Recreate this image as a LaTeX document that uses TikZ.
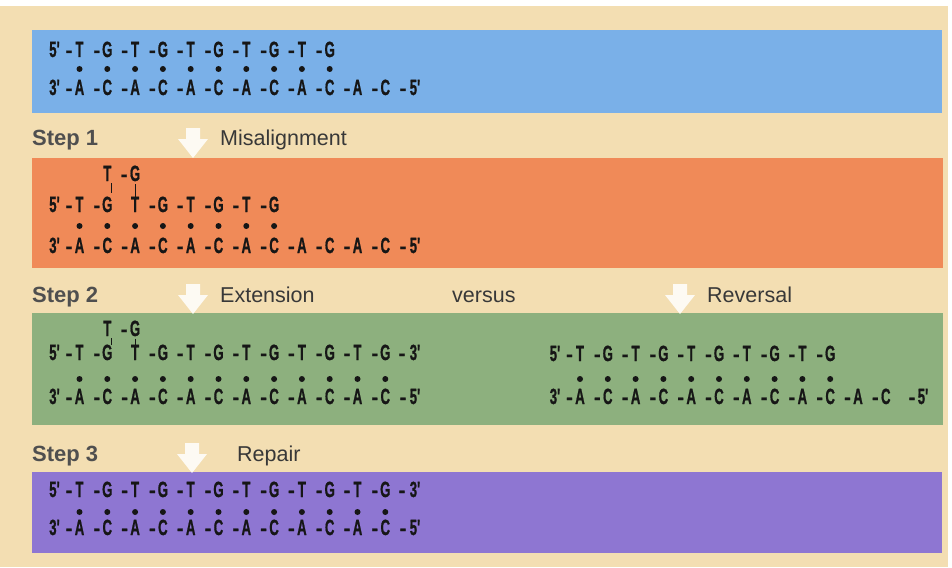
\documentclass[tikz,border=0pt]{standalone}
\usepackage{fontspec}
\setmainfont{Liberation Sans}
\newfontfamily\dnafont{Liberation Sans}[BoldFeatures={FakeBold=1.2}]
\usepackage{graphicx}
\definecolor{bg}{HTML}{F3DEB2}
\definecolor{blueband}{HTML}{7AB0E8}
\definecolor{orangeband}{HTML}{F08A58}
\definecolor{greenband}{HTML}{8DB07E}
\definecolor{purpleband}{HTML}{8E76D2}
\definecolor{ink}{HTML}{161616}
\definecolor{steptxt}{HTML}{4F4F4F}
\definecolor{labtxt}{HTML}{383838}
\newcommand\dnaT[1]{\scalebox{0.6}[1]{\dnafont\fontsize{22}{22}\selectfont\bfseries #1}}
\newcommand\dnaH{{\dnafont\fontsize{20}{20}\selectfont\bfseries -}}
\tikzset{
  nt/.style={inner sep=0pt, anchor=base, text=ink},
  steplab/.style={inner sep=0pt, anchor=base west, text=steptxt, font=\fontsize{22}{22}\selectfont\bfseries},
  actlab/.style={inner sep=0pt, anchor=base west, text=labtxt, font=\fontsize{21.5}{22}\selectfont},
  arrowshape/.style={fill=white, opacity=0.85},
  tick/.style={draw=ink, line width=1pt}
}
% #1 baseline, #2 x0, #3 first index, #4 last index, #5 even letter, #6 odd letter
\newcommand\strand[6]{%
  \foreach \i in {#3,...,#4}{%
    \pgfmathsetmacro\xx{#2+27.8*\i}%
    \ifodd\i\relax\def\bl{#6}\else\def\bl{#5}\fi
    \node[nt] at (\xx,#1) {\dnaT{\bl}};
    \node[nt] at (\xx-10.5,#1) {\dnaH};
  }}
\newcommand\bpdots[4]{\foreach \i in {#3,...,#4}{\fill[ink] (#2+27.8*\i,#1) circle (3pt);}}
\newcommand\stepArrow[2]{%
  \fill[arrowshape] (#1-7,#2-30) -- (#1+7,#2-30) -- (#1+7,#2-19) -- (#1+15,#2-19)
     -- (#1,#2) -- (#1-15,#2-19) -- (#1-7,#2-19) -- cycle;}
\begin{document}
\begin{tikzpicture}[x=1pt,y=-1pt]
\useasboundingbox (0,0) rectangle (952,567);
\fill[white] (0,0) rectangle (952,567);
\fill[bg] (0,6) rectangle (948,567);
% bands
\fill[blueband] (32,30) rectangle (942,113);
\fill[orangeband] (32,158) rectangle (943,268);
\fill[greenband] (32,313) rectangle (943,425);
\fill[purpleband] (32,472) rectangle (942,553);
% arrows
\stepArrow{193}{158}
\stepArrow{193}{314}
\stepArrow{680}{314}
\stepArrow{192}{473}
% labels
\node[steplab] (s1) at (32,146) {Step 1};
\node[actlab] (l1) at (220,146) {Misalignment};
\node[steplab] (s2) at (32,302) {Step 2};
\node[actlab] (l2) at (220,302) {Extension};
\node[actlab] (vs) at (452,302) {versus};
\node[actlab] (l3) at (707,302) {Reversal};
\node[steplab] (s3) at (32,461) {Step 3};
\node[actlab] (l4) at (237,461) {Repair};
% ---- blue: original
\node[nt] (b5) at (79.5-25,57) {\dnaT{5'}};
\strand{57}{79.5}{0}{9}{T}{G}
\bpdots{69}{79.5}{0}{9}
\node[nt] (b3) at (79.5-25,95) {\dnaT{3'}};
\strand{95}{79.5}{0}{11}{A}{C}
\node[nt] at (403,95) {\dnaH};
\node[nt] (b5e) at (415,95) {\dnaT{5'}};
% ---- orange: misalignment
\node[nt] (ob1) at (107.3,181) {\dnaT{T}};
\node[nt] at (135.1-11,181) {\dnaH};
\node[nt] (ob2) at (135.1,181) {\dnaT{G}};
\draw[tick] (111.8,183) -- (111.8,193);
\draw[tick] (135.1,184) -- (135.1,198);
\node[nt] (o5) at (79.5-25,212) {\dnaT{5'}};
\strand{212}{79.5}{0}{1}{T}{G}
\node[nt] (ot2) at (135.1,212) {\dnaT{T}};
\strand{212}{79.5}{3}{7}{T}{G}
\bpdots{226}{79.5}{0}{7}
\node[nt] (o3) at (79.5-25,253) {\dnaT{3'}};
\strand{253}{79.5}{0}{11}{A}{C}
\node[nt] at (403,253) {\dnaH};
\node[nt] (o5e) at (415,253) {\dnaT{5'}};
% ---- green left: extension
\node[nt] (gb1) at (107.3,336) {\dnaT{T}};
\node[nt] at (135.1-11,336) {\dnaH};
\node[nt] (gb2) at (135.1,336) {\dnaT{G}};
\draw[tick] (111.8,338) -- (111.8,345);
\draw[tick] (135.1,338.5) -- (135.1,346.5);
\node[nt] (g5) at (79.5-25,360) {\dnaT{5'}};
\strand{360}{79.5}{0}{1}{T}{G}
\node[nt] (gt2) at (135.1,360) {\dnaT{T}};
\strand{360}{79.5}{3}{11}{T}{G}
\node[nt] at (402,360) {\dnaH};
\node[nt] (g3e) at (415,360) {\dnaT{3'}};
\bpdots{379}{79.5}{0}{11}
\node[nt] (g3) at (79.5-25,404) {\dnaT{3'}};
\strand{404}{79.5}{0}{11}{A}{C}
\node[nt] at (403,404) {\dnaH};
\node[nt] (g5e) at (415,404) {\dnaT{5'}};
% ---- green right: reversal
\node[nt] (r5) at (580-25,361) {\dnaT{5'}};
\strand{361}{580}{0}{9}{T}{G}
\bpdots{379}{580}{0}{9}
\node[nt] (r3) at (580-25,404) {\dnaT{3'}};
\strand{404}{580}{0}{11}{A}{C}
\node[nt] at (912,404) {\dnaH};
\node[nt] (r5e) at (923,404) {\dnaT{5'}};
% ---- purple: repair
\node[nt] (p5) at (79.5-25,497) {\dnaT{5'}};
\strand{497}{79.5}{0}{11}{T}{G}
\node[nt] at (402,497) {\dnaH};
\node[nt] (p3e) at (415,497) {\dnaT{3'}};
\bpdots{512}{79.5}{0}{11}
\node[nt] (p3) at (79.5-25,535) {\dnaT{3'}};
\strand{535}{79.5}{0}{11}{A}{C}
\node[nt] at (403,535) {\dnaH};
\node[nt] (p5e) at (415,535) {\dnaT{5'}};
\end{tikzpicture}
\end{document}
